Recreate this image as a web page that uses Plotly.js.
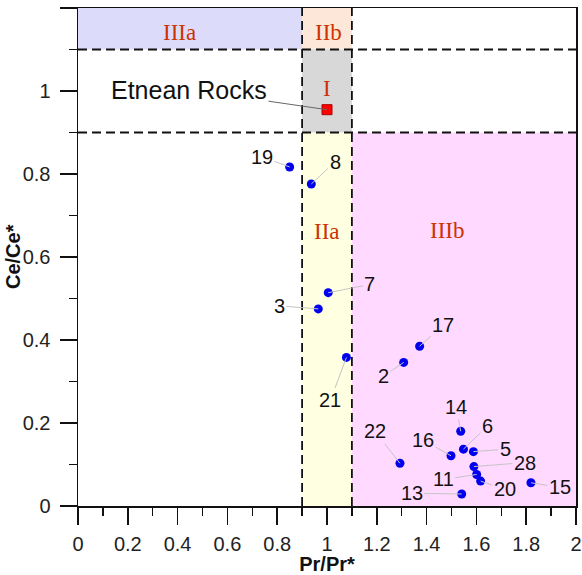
<!DOCTYPE html>
<html>
<head>
<meta charset="utf-8">
<script src="https://cdn.plot.ly/plotly-3.0.1.min.js"></script>
<style>
html,body{margin:0;padding:0;background:#fff;}
#chart{width:582px;height:575px;}
</style>
</head>
<body>
<div id="chart"></div>
<script>
// ---- data ----
const sampleLabels = ['19','8','7','3','21','17','2','14','6','22','16','5','28','11','20','15','13'];
const prRatio = [0.850,0.937,1.005,0.965,1.078,1.372,1.308,1.537,1.548,1.293,1.498,1.588,1.590,1.601,1.617,1.819,1.541];
const ceRatio = [0.817,0.776,0.514,0.475,0.358,0.385,0.346,0.180,0.137,0.103,0.121,0.131,0.095,0.076,0.060,0.056,0.029];

const etnaLabel = ['Etnean Rocks'];
const etnaPr = [1.0];
const etnaCe = [0.955];

// zones: name, x0, x1, y0, y1
const zoneNames = ['IIIa','IIb','I','IIa','IIIb'];
const zoneX0 = [0, 0.9, 0.9, 0.9, 1.1];
const zoneX1 = [0.9, 1.1, 1.1, 1.1, 2.0];
const zoneY0 = [1.1, 1.1, 0.9, 0, 0];
const zoneY1 = [1.2, 1.2, 1.1, 0.9, 0.9];
const zoneLabelX = [0.408, 1.005, 1.0, 1.0, 1.481];
const zoneLabelY = [1.14, 1.14, 1.005, 0.662, 0.664];

const vLines = [0.9, 1.1];
const hLines = [0.9, 1.1];

const xTicks = [0,0.2,0.4,0.6,0.8,1,1.2,1.4,1.6,1.8,2];
const xTickText = ['0','0.2','0.4','0.6','0.8','1','1.2','1.4','1.6','1.8','2'];
const yTicks = [0,0.2,0.4,0.6,0.8,1,1.2];
const yTickText = ['0','0.2','0.4','0.6','0.8','1','1.2'];

const xTitle = 'Pr/Pr*';
const yTitle = 'Ce/Ce*';

// ---- label placement (pixel offsets of the number labels) ----
const labelDx = [-27.6, 23.7, 41.7, -39, -16, 23.6, -20.4, -4.3, 24, -25, -27.7, 31.7, 51, -33.4, 24.3, 29, -50];
const labelDy = [-10, -22, -8.3, -3, 43, -21, 13.7, -24.3, -23, -32, -15.7, -2.4, -4, 5, 8.3, 4.6, -0.7];

const zoneColors = ['rgb(220,220,250)','rgb(253,231,216)','rgb(216,216,216)','rgb(255,255,226)','rgb(255,217,255)'];

const SANS = 'Liberation Sans, Arial, sans-serif';
const SERIF = 'Liberation Serif, Times New Roman, serif';

const shapes = [];
zoneNames.forEach((n,i)=>{
  shapes.push({type:'rect', xref:'x', yref:'y', x0:zoneX0[i], x1:zoneX1[i], y0:zoneY0[i], y1:zoneY1[i],
    fillcolor:zoneColors[i], line:{width:0}, layer:'below'});
});
vLines.forEach(v=>shapes.push({type:'line', xref:'x', yref:'y', x0:v, x1:v, y0:0, y1:1.2,
  line:{color:'#111', width:1.8, dash:'9px,5px'}, layer:'below'}));
hLines.forEach(h=>shapes.push({type:'line', xref:'x', yref:'y', x0:0, x1:2, y0:h, y1:h,
  line:{color:'#111', width:1.8, dash:'9px,5px'}, layer:'below'}));

const annotations = [];
sampleLabels.forEach((t,i)=>{
  annotations.push({x:prRatio[i], y:ceRatio[i], xref:'x', yref:'y', text:t,
    showarrow:true, arrowhead:0, arrowwidth:1, arrowcolor:'#c4c4c4', standoff:0,
    ax:labelDx[i], ay:labelDy[i], font:{family:SANS, size:20, color:'#111'}});
});
annotations.push({x:etnaPr[0], y:etnaCe[0], xref:'x', yref:'y', text:etnaLabel[0],
  showarrow:true, arrowhead:0, arrowwidth:1, arrowcolor:'#666', standoff:0,
  ax:-138, ay:-20, font:{family:SANS, size:25, color:'#111'}});
zoneNames.forEach((n,i)=>{
  annotations.push({x:zoneLabelX[i], y:zoneLabelY[i], xref:'x', yref:'y', text:n, showarrow:false,
    font:{family:SERIF, size:23, color:'#cc3300'}});
});
// y-axis title placed as a rotated annotation
annotations.push({xref:'paper', yref:'paper', x:-65/498, y:0.5, xanchor:'center', yanchor:'middle',
  text:'<b>'+yTitle+'</b>', textangle:-90, showarrow:false, font:{family:SANS, size:20, color:'#111'}});

const traces = [
  {type:'scatter', mode:'markers', x:prRatio, y:ceRatio, text:sampleLabels,
   marker:{color:'#0000ee', size:9}, showlegend:false, hoverinfo:'text'},
  {type:'scatter', mode:'markers', x:etnaPr, y:etnaCe, text:etnaLabel,
   marker:{color:'#ff0000', size:10, symbol:'square', line:{color:'#b00000', width:1}}, showlegend:false}
];

const axisCommon = {
  showline:true, linecolor:'#111', linewidth:1.5, mirror:true,
  ticks:'outside', ticklen:17, tickwidth:1.5, tickcolor:'#111',
  showgrid:false, zeroline:false, fixedrange:true,
  tickfont:{family:SANS, size:20, color:'#222'}
};

const layout = {
  width:582, height:575,
  margin:{l:78, r:6, t:7.5, b:69, pad:0},
  paper_bgcolor:'#fff', plot_bgcolor:'#fff',
  showlegend:false,
  xaxis:Object.assign({}, axisCommon, {
    range:[0,2], tickmode:'array', tickvals:xTicks, ticktext:xTickText,
    minor:{dtick:0.1, tick0:0, ticks:'outside', ticklen:8, tickwidth:1.5, tickcolor:'#111', showgrid:false},
    ticklabelstandoff:2,
    title:{text:'<b>'+xTitle+'</b>', font:{family:SANS, size:20, color:'#111'}, standoff:1}
  }),
  yaxis:Object.assign({}, axisCommon, {
    range:[0,1.2], tickmode:'array', tickvals:yTicks, ticktext:yTickText,
    minor:{dtick:0.1, tick0:0, ticks:'outside', ticklen:8, tickwidth:1.5, tickcolor:'#111', showgrid:false},
    ticklabelstandoff:5,
    automargin:false
  }),
  shapes:shapes,
  annotations:annotations
};

Plotly.newPlot('chart', traces, layout, {displayModeBar:false, staticPlot:true});
</script>
</body>
</html>
